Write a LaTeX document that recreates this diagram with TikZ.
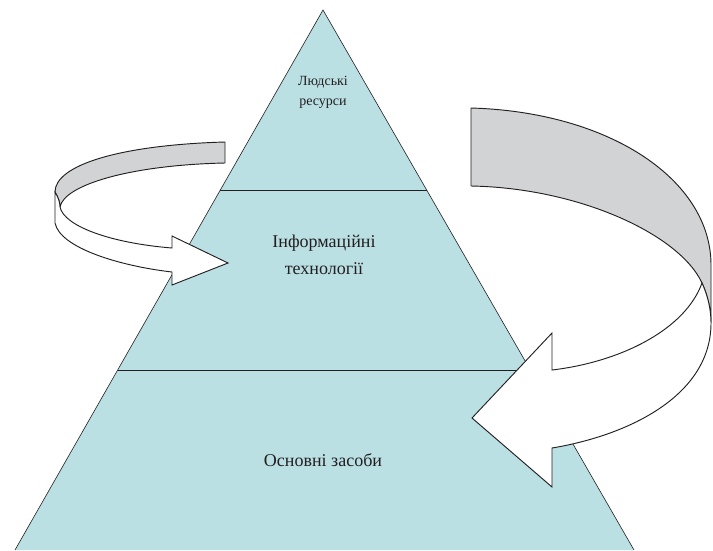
\documentclass[tikz,border=0pt]{standalone}
\usepackage{fontspec}
\setmainfont{Liberation Serif}
\usetikzlibrary{calc}
\definecolor{pyr}{HTML}{BAE0E4}
\definecolor{band}{HTML}{D1D3D4}
\definecolor{ink}{HTML}{231F20}
\begin{document}
\begin{tikzpicture}[x=0.75pt,y=-0.75pt,
  tier/.style={draw=ink,line width=0.45pt},
  back/.style={fill=band,draw=ink,line width=0.7pt,line join=round},
  front/.style={fill=white,draw=ink,line width=0.7pt,line join=miter},
  lbl/.style={text=ink,align=center,inner sep=0pt}]
\useasboundingbox (0,0) rectangle (713,550);
% pyramid
\coordinate (apex) at (323,10);
\coordinate (bl) at (15,550);
\coordinate (br) at (634,550);
\fill[pyr] (apex) -- (bl) -- (br) -- cycle;
\draw[tier] (bl) -- (apex) -- (br);
\coordinate (l1) at ($(apex)!0.3333!(bl)$);
\coordinate (r1) at ($(apex)!0.3333!(br)$);
\coordinate (l2) at ($(apex)!0.6667!(bl)$);
\coordinate (r2) at ($(apex)!0.6667!(br)$);
\draw[tier] (l1) -- (r1);
\draw[tier] (l2) -- (r2);
% labels
\node[lbl,font=\fontsize{10.5}{15}\selectfont] (hr) at (323,92) {Людські\\ресурси};
\node[lbl,font=\fontsize{13.5}{20}\selectfont] (it) at (324,255) {Інформаційні\\технології};
\node[lbl,font=\fontsize{13.5}{20}\selectfont] (fa) at (323,460) {Основні засоби};
% left arrow
\draw[back] (225,142) .. controls (120,145) and (55,165) .. (55,192)
  .. controls (58,197) and (60,202) .. (60,207)
  .. controls (64,185) and (130,165) .. (225,163) -- cycle;
\draw[front] (55,192) -- (55,223)
  .. controls (60,248) and (120,266) .. (172,272)
  -- (172,285) -- (228,263) -- (172,236) -- (172,248)
  .. controls (110,243) and (64,226) .. (60,207)
  .. controls (60,202) and (58,197) .. (55,192) -- cycle;
% right arrow
\draw[back] (471,108) .. controls (610,112) and (711,180) .. (711,265)
  -- (711,323)
  .. controls (711,310) and (708,296) .. (702,283)
  .. controls (680,235) and (580,188) .. (471,186) -- cycle;
\draw[front] (702,283) .. controls (685,330) and (620,362) .. (552,370)
  -- (552,333) -- (472,418) -- (552,487) -- (552,448)
  .. controls (630,435) and (711,395) .. (711,323)
  .. controls (711,310) and (708,296) .. (702,283) -- cycle;
\end{tikzpicture}
\end{document}
